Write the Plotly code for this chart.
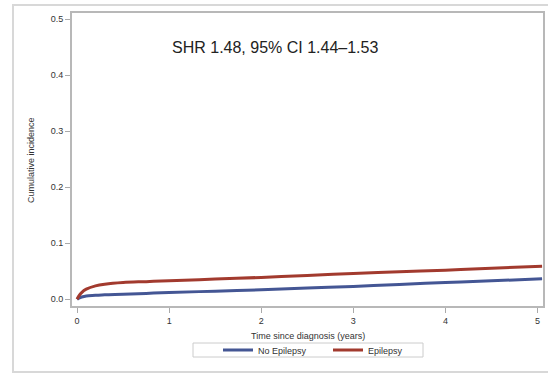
import plotly.graph_objects as go

time_years = [0, 0.02, 0.05, 0.1, 0.2, 0.3, 0.5, 0.75, 1, 1.5, 2, 2.5, 3, 3.5, 4, 4.5, 5.05]
no_epilepsy = [0, 0.002, 0.004, 0.006, 0.007, 0.008, 0.009, 0.0105, 0.012, 0.0145, 0.017, 0.020, 0.023, 0.0265, 0.030, 0.033, 0.0365]
epilepsy = [0, 0.006, 0.012, 0.018, 0.024, 0.027, 0.030, 0.0315, 0.033, 0.036, 0.039, 0.0425, 0.046, 0.049, 0.052, 0.0555, 0.059]
series_names = ["No Epilepsy", "Epilepsy"]
series_colors = ["#445694", "#A23A2E"]
y_ticks = [0.0, 0.1, 0.2, 0.3, 0.4, 0.5]
x_ticks = [0, 1, 2, 3, 4, 5]
annotation_text = "SHR 1.48, 95% CI 1.44\u20131.53"
x_title = "Time since diagnosis (years)"
y_title = "Cumulative incidence"

fig = go.Figure()
for name, vals, col in zip(series_names, [no_epilepsy, epilepsy], series_colors):
    fig.add_trace(go.Scatter(x=time_years, y=vals, mode="lines", name=name,
                             line=dict(color=col, width=3, shape="spline")))

W, H = 548, 374
ml, mr, mt, mb = 72, 5, 13, 68
pw, ph = W - ml - mr, H - mt - mb

def px_to_paper(x, y):
    return (x - ml) / pw, (H - mb - y) / ph

x0, y0 = px_to_paper(13, 5)
x1, y1 = px_to_paper(560, 372)
fig.add_shape(type="rect", xref="paper", yref="paper", x0=x0, y0=y1, x1=x1, y1=y0,
              line=dict(color="#d8d8d8", width=2), layer="below")

# legend frame
bx0, by0 = px_to_paper(193, 343)
bx1, by1 = px_to_paper(423, 357)
fig.add_shape(type="rect", xref="paper", yref="paper", x0=bx0, y0=by1, x1=bx1, y1=by0,
              line=dict(color="#cccccc", width=1), layer="below")

fig.add_annotation(x=2.15, y=0.45, xref="x", yref="y", text=annotation_text,
                   showarrow=False, font=dict(size=16, color="#222222"))

tx, ty = px_to_paper(308, 336)
fig.add_annotation(x=tx, y=ty, xref="paper", yref="paper", text=x_title, showarrow=False,
                   xanchor="center", yanchor="middle", font=dict(size=9, color="#333333"))
yx, yy = px_to_paper(31, 160)
fig.add_annotation(x=yx, y=yy, xref="paper", yref="paper", text=y_title, showarrow=False,
                   textangle=-90, xanchor="center", yanchor="middle",
                   font=dict(size=9, color="#333333"))

lx, ly = px_to_paper(218, 350)

fig.update_layout(
    width=W, height=H,
    margin=dict(l=ml, r=mr, t=mt, b=mb),
    paper_bgcolor="white", plot_bgcolor="white",
    font=dict(family="Liberation Sans, Arial, sans-serif", color="#333333"),
    showlegend=True,
    legend=dict(orientation="h", x=lx, y=ly, xanchor="left", yanchor="middle",
                borderwidth=0, bgcolor="rgba(0,0,0,0)", font=dict(size=9),
                itemwidth=30, entrywidth=65, tracegroupgap=0),
    xaxis=dict(range=[-0.055, 5.06], tickvals=x_ticks, ticks="outside", ticklen=5,
               tickcolor="#aaaaaa", showgrid=False, zeroline=False, automargin=False,
               showline=True, mirror=True, linecolor="#b8b8b8", linewidth=2,
               tickfont=dict(size=9), ticklabeloverflow="allow"),
    yaxis=dict(range=[-0.012, 0.511], tickvals=y_ticks, tickformat=".1f", ticks="outside",
               ticklen=5, tickcolor="#aaaaaa", showgrid=False, zeroline=False, automargin=False,
               showline=True, mirror=True, linecolor="#b8b8b8", linewidth=2,
               tickfont=dict(size=9)),
)

fig.write_html("out.html", config={"displayModeBar": False},
               post_script="document.body.style.margin='0';")
